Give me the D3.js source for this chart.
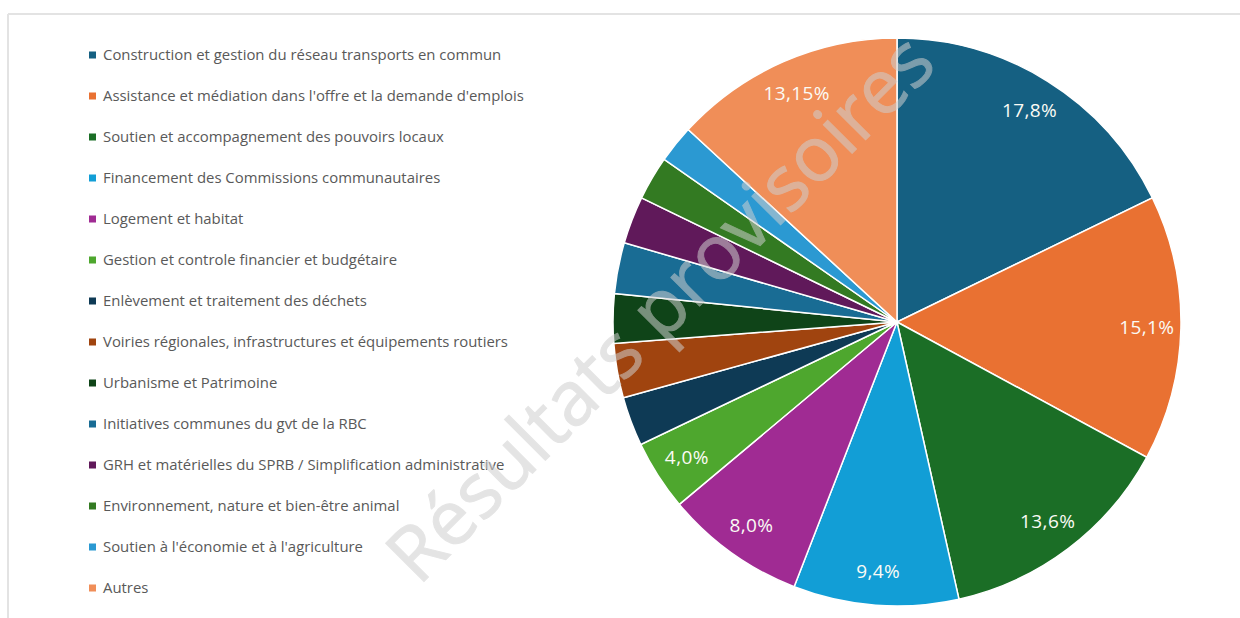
<!DOCTYPE html>
<html>
<head>
<meta charset="utf-8">
<script src="https://cdn.jsdelivr.net/npm/d3@7"></script>
<style>
  body { margin: 0; background: #fff; }
  svg { display: block; }
</style>
</head>
<body>
<div id="chart"></div>
<script>
// Categories, shares (%) and slice labels
var categories = [
  "Construction et gestion du réseau transports en commun",
  "Assistance et médiation dans l'offre et la demande d'emplois",
  "Soutien et accompagnement des pouvoirs locaux",
  "Financement des Commissions communautaires",
  "Logement et habitat",
  "Gestion et controle financier et budgétaire",
  "Enlèvement et traitement des déchets",
  "Voiries régionales, infrastructures et équipements routiers",
  "Urbanisme et Patrimoine",
  "Initiatives communes du gvt de la RBC",
  "GRH et matérielles du SPRB / Simplification administrative",
  "Environnement, nature et  bien-être animal",
  "Soutien à l'économie et à l'agriculture",
  "Autres"
];
var shares = [17.8, 15.1, 13.6, 9.4, 8.0, 4.0, 2.8, 3.1, 2.8, 2.9, 2.7, 2.5, 2.15, 13.15];
var sliceLabels = ["17,8%", "15,1%", "13,6%", "9,4%", "8,0%", "4,0%", "", "", "", "", "", "", "", "13,15%"];
var colors = ["#156082", "#e97132", "#1b6e26", "#129ed6", "#a02b93", "#4ea72e", "#0e3a55",
  "#a0440f", "#0f4418", "#196c94", "#60195a", "#337a22", "#2b99d2", "#f08e58"];

var svgWidth = 1240;
var svgHeight = 618;

var svg = d3.select("#chart")
  .append("svg")
  .attr("width", svgWidth)
  .attr("height", svgHeight);

// Light frame (top and left edges of the captured chart area)
svg.append("line")
  .attr("x1", 8).attr("x2", svgWidth).attr("y1", 14).attr("y2", 14)
  .attr("stroke", "#e3e3e3").attr("stroke-width", 2);
svg.append("line")
  .attr("x1", 8).attr("x2", 8).attr("y1", 14).attr("y2", svgHeight)
  .attr("stroke", "#e3e3e3").attr("stroke-width", 2);

var data = categories.map(function(c, i) {
  return { name: c, value: shares[i], label: sliceLabels[i], color: colors[i] };
});

// Pie
var cx = 897, cy = 322, radius = 284;

var pie = d3.pie()
  .value(function(d) { return d.value; })
  .sort(null);

var arc = d3.arc().innerRadius(0).outerRadius(radius);
var labelArc = d3.arc().innerRadius(radius * 0.88).outerRadius(radius * 0.88);

var pieGroup = svg.append("g")
  .attr("transform", "translate(" + cx + "," + cy + ")");

var arcs = pie(data);

pieGroup.selectAll("path")
  .data(arcs)
  .enter()
  .append("path")
  .attr("d", arc)
  .attr("fill", function(d) { return d.data.color; })
  .attr("stroke", "#fff")
  .attr("stroke-width", 1.5);

pieGroup.selectAll("text.pct")
  .data(arcs.filter(function(d) { return d.data.label; }))
  .enter()
  .append("text")
  .attr("class", "pct")
  .attr("transform", function(d) { return "translate(" + labelArc.centroid(d) + ")"; })
  .attr("text-anchor", "middle")
  .attr("dy", "0.35em")
  .style("font-family", "'Open Sans', sans-serif")
  .style("font-size", "19px")
  .style("letter-spacing", "0.4px")
  .attr("fill", "#fbfbf5")
  .text(function(d) { return d.data.label; });

// Legend
var legendY = d3.scalePoint()
  .domain(categories)
  .range([55, 588]);

var legend = svg.append("g");

var items = legend.selectAll("g")
  .data(data)
  .enter()
  .append("g")
  .attr("transform", function(d) { return "translate(89," + legendY(d.name) + ")"; });

items.append("rect")
  .attr("x", 0).attr("y", -3.5)
  .attr("width", 7).attr("height", 7)
  .attr("fill", function(d) { return d.color; });

items.append("text")
  .attr("x", 14)
  .attr("dy", "0.35em")
  .style("font-family", "'Open Sans', sans-serif")
  .style("font-size", "14.9px")
  .attr("fill", "#595959")
  .text(function(d) { return d.name; });

// Watermark
svg.append("text")
  .attr("transform", "translate(660,308) rotate(-45)")
  .attr("text-anchor", "middle")
  .attr("dy", "0.35em")
  .style("font-family", "'Open Sans', sans-serif")
  .style("font-size", "76px")
  .attr("fill", "#cfcfcf")
  .attr("stroke", "#cfcfcf")
  .attr("stroke-width", 1)
  .attr("opacity", 0.55)
  .text("Résultats provisoires");
</script>
</body>
</html>
